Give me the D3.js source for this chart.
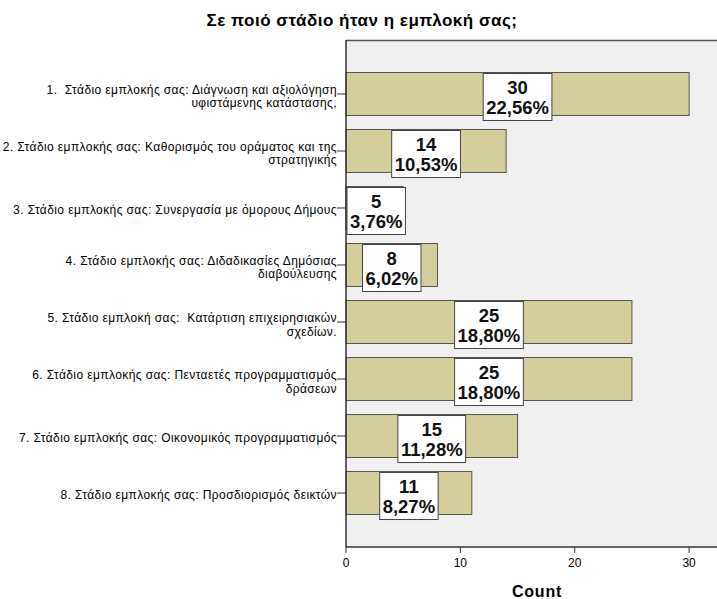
<!DOCTYPE html>
<html>
<head>
<meta charset="utf-8">
<script src="https://cdn.jsdelivr.net/npm/d3@7/dist/d3.min.js"></script>
<style>
  html, body { margin: 0; padding: 0; background: #ffffff; }
  svg { display: block; font-family: "Liberation Sans", Arial, sans-serif; }
  .cat { white-space: pre; }
</style>
</head>
<body>
<svg id="chart" width="717" height="599"></svg>
<script>
// Stages of involvement (each label split over its display lines)
const categories = [
  ["1.  Στάδιο εμπλοκής σας: Διάγνωση και αξιολόγηση", "υφιστάμενης κατάστασης,"],
  ["2. Στάδιο εμπλοκής σας: Καθορισμός του οράματος και της", "στρατηγικής"],
  ["3. Στάδιο εμπλοκής σας: Συνεργασία με όμορους Δήμους"],
  ["4. Στάδιο εμπλοκής σας: Διδαδικασίες Δημόσιας", "διαβούλευσης"],
  ["5. Στάδιο εμπλοκή σας:  Κατάρτιση επιχειρησιακών", "σχεδίων."],
  ["6. Στάδιο εμπλοκής σας: Πενταετές προγραμματισμός", "δράσεων"],
  ["7. Στάδιο εμπλοκής σας: Οικονομικός προγραμματισμός"],
  ["8. Στάδιο εμπλοκής σας: Προσδιορισμός δεικτών"]
];
const counts = [30, 14, 5, 8, 25, 25, 15, 11];
const percents = ["22,56%", "10,53%", "3,76%", "6,02%", "18,80%", "18,80%", "11,28%", "8,27%"];
const xTicks = [0, 10, 20, 30];
const xMax = 33.4;

const titleText = "Σε ποιό στάδιο ήταν η εμπλοκή σας;";
const xAxisTitle = "Count";

const svg = d3.select("#chart");

const plot = { left: 346, top: 40, right: 728, bottom: 547 };

const x = d3.scaleLinear().domain([0, xMax]).range([plot.left, plot.right]);
const y = d3.scaleBand()
  .domain(d3.range(categories.length))
  .range([plot.top, plot.bottom])
  .paddingInner(0.246)
  .paddingOuter(0.57);

// Title
svg.append("text")
  .attr("x", 362).attr("y", 26)
  .attr("text-anchor", "middle")
  .attr("font-size", 17).attr("font-weight", "bold")
  .attr("letter-spacing", 0.5)
  .attr("fill", "#000")
  .text(titleText);

// Plot background
svg.append("rect")
  .attr("x", plot.left).attr("y", plot.top)
  .attr("width", plot.right - plot.left).attr("height", plot.bottom - plot.top)
  .attr("fill", "#f0f0f0");
svg.append("line")
  .attr("x1", plot.left).attr("x2", plot.right)
  .attr("y1", plot.top + 0.5).attr("y2", plot.top + 0.5)
  .attr("stroke", "#555").attr("stroke-width", 1.5);

// Bars
svg.append("g").selectAll("rect")
  .data(counts)
  .join("rect")
  .attr("x", x(0))
  .attr("y", (d, i) => y(i))
  .attr("width", d => x(d) - x(0))
  .attr("height", y.bandwidth())
  .attr("fill", "#d3ce9b")
  .attr("stroke", "#555")
  .attr("stroke-width", 1);

// Y axis with category labels
const yAxisG = svg.append("g").attr("transform", `translate(${plot.left},0)`);
yAxisG.append("line")
  .attr("x1", 0).attr("x2", 0).attr("y1", plot.top).attr("y2", plot.bottom)
  .attr("stroke", "#333").attr("stroke-width", 1.5);
const yTick = yAxisG.selectAll("g.tick")
  .data(categories)
  .join("g")
  .attr("class", "tick")
  .attr("transform", (d, i) => `translate(0,${y(i) + y.bandwidth() / 2})`);
yTick.append("line")
  .attr("x1", -9).attr("x2", 0)
  .attr("stroke", "#333").attr("stroke-width", 1);
yTick.each(function (lines) {
  const t = d3.select(this).append("text")
    .attr("class", "cat")
    .attr("text-anchor", "end")
    .attr("font-size", 12)
    .attr("letter-spacing", 0.4)
    .attr("fill", "#000");
  if (lines.length === 1) {
    t.append("tspan").attr("x", -9).attr("y", 6).text(lines[0]);
  } else {
    t.append("tspan").attr("x", -9).attr("y", 0).text(lines[0]);
    t.append("tspan").attr("x", -9).attr("y", 13.5).text(lines[1]);
  }
});

// X axis
const xAxisG = svg.append("g").attr("transform", `translate(0,${plot.bottom})`);
xAxisG.append("line")
  .attr("x1", plot.left).attr("x2", plot.right)
  .attr("stroke", "#333").attr("stroke-width", 1.5);
const xt = xAxisG.selectAll("g.xt").data(xTicks).join("g")
  .attr("class", "xt")
  .attr("transform", d => `translate(${x(d)},0)`);
xt.append("line").attr("y1", 0).attr("y2", 6).attr("stroke", "#333").attr("stroke-width", 1);
xt.append("text")
  .attr("y", 20).attr("text-anchor", "middle")
  .attr("font-size", 12).attr("fill", "#000")
  .text(d => d);

svg.append("text")
  .attr("x", 537).attr("y", 597)
  .attr("text-anchor", "middle")
  .attr("font-size", 16).attr("font-weight", "bold")
  .attr("letter-spacing", 0.8)
  .attr("fill", "#000")
  .text(xAxisTitle);

// Value labels: count and percentage in a white box centred on each bar
const labels = svg.append("g").selectAll("g")
  .data(counts.map((c, i) => ({ c, p: percents[i], i })))
  .join("g");
labels.each(function (d) {
  const g = d3.select(this);
  const fs = 18.5;
  const t1 = g.append("text").attr("text-anchor", "middle")
    .attr("font-size", fs).attr("font-weight", "bold").attr("fill", "#111").text(d.c);
  const t2 = g.append("text").attr("text-anchor", "middle")
    .attr("font-size", fs).attr("font-weight", "bold").attr("fill", "#111").text(d.p);
  const w = Math.max(t1.node().getComputedTextLength(), t2.node().getComputedTextLength()) + 6;
  let cx = (x(0) + x(d.c)) / 2;
  if (cx - w / 2 < plot.left + 1) cx = plot.left + 1 + w / 2;
  const top = y(d.i) + 1;
  const h = 47;
  g.insert("rect", "text")
    .attr("x", cx - w / 2).attr("y", top)
    .attr("width", w).attr("height", h)
    .attr("fill", "#ffffff").attr("stroke", "#444").attr("stroke-width", 1);
  t1.attr("x", cx).attr("y", top + 20.5);
  t2.attr("x", cx).attr("y", top + 40.5);
});
</script>
</body>
</html>
